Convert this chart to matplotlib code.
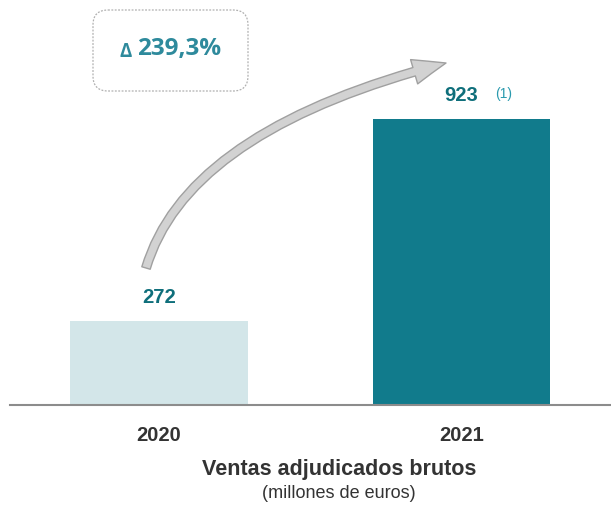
import matplotlib
matplotlib.use("Agg")
import matplotlib.pyplot as plt
from matplotlib import font_manager
from matplotlib.patches import FancyArrowPatch, FancyBboxPatch
from matplotlib.path import Path

years = ["2020", "2021"]
sales = [272, 923]
bar_colors = ["#d3e6e9", "#117b8c"]
change_label = "239,3%"

# pick a narrow sans if one is installed, otherwise plain Liberation Sans
installed = {f.name for f in font_manager.fontManager.ttflist}
if "Liberation Sans Narrow" in installed:
    narrow = ["Liberation Sans Narrow", "DejaVu Sans"]
    k = 1.2  # narrow faces can go larger for the same width
else:
    narrow = ["Liberation Sans", "DejaVu Sans"]
    k = 1.0

fig = plt.figure(figsize=(6.11, 5.05), dpi=100)

# main bar axes, placed so the baseline sits at the reference position
ax = fig.add_axes([10 / 611, 100 / 505, 601 / 611, 309.9 / 505])
x = range(len(years))
ax.bar(x, sales, width=0.588, color=bar_colors)
ax.set_xlim(-0.4926, 1.494)
ax.set_ylim(0, 1000)
ax.set_yticks([])
for s in ["top", "right", "left"]:
    ax.spines[s].set_visible(False)
ax.spines["bottom"].set_color("#8c8c8c")
ax.spines["bottom"].set_linewidth(1.5)
ax.set_xticks(list(x))
ax.set_xticklabels(years, family=narrow, fontweight="bold", fontsize=14.5 * k, color="#333333")
ax.tick_params(axis="x", length=0, pad=15)

# value labels
for i, v in enumerate(sales):
    ax.text(i, v + 75, str(v), ha="center", va="center",
            family=narrow, fontweight="bold", fontsize=14.5 * k, color="#0f6f7b")
ax.text(1.139, sales[1] + 82, "(1)", ha="center", va="center",
        family=narrow, fontsize=10 * k, color="#2a9aae")

# overlay in pixel units for the annotation box and arrow
ov = fig.add_axes([0, 0, 1, 1])
ov.set_xlim(0, 611)
ov.set_ylim(505, 0)
ov.axis("off")

box = FancyBboxPatch((99, 16), 143, 69, boxstyle="round,pad=6,rounding_size=15",
                     facecolor="white", edgecolor="#b0b0b0", linewidth=0.9,
                     linestyle=(0, (1.5, 1.2)))
ov.add_patch(box)
ov.text(132, 52, "\u0394", ha="right", va="center", fontsize=13.5, fontweight="bold",
        color="#2e8a9c", family="Open Sans")
ov.text(137, 49, change_label, ha="left", va="center", fontsize=17.5, fontweight="bold",
        color="#2e8a9c", family="Open Sans")

curve = Path([(146, 268), (187, 130), (446, 63)],
             [Path.MOVETO, Path.CURVE3, Path.CURVE3])
arrow = FancyArrowPatch(path=curve,
                        arrowstyle="simple,head_length=1.7,head_width=1.3,tail_width=0.45",
                        mutation_scale=14, facecolor="#d2d2d2", edgecolor="#a0a0a0",
                        linewidth=1.0, transform=ov.transData)
ov.add_patch(arrow)

# bottom titles
fig.text(339 / 611, 1 - 470 / 505, "Ventas adjudicados brutos", ha="center", va="center",
         family=narrow, fontweight="bold", fontsize=15.5 * k, color="#333333")
fig.text(339 / 611, 1 - 493 / 505, "(millones de euros)", ha="center", va="center",
         family=narrow, fontsize=13 * k, color="#333333")

fig.savefig("out.png", dpi=100)
